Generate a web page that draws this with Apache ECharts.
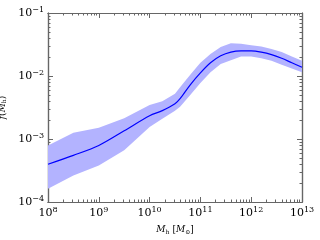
<!DOCTYPE html>
<html><head><meta charset="utf-8">
<script src="https://cdn.jsdelivr.net/npm/echarts@6/dist/echarts.min.js"></script>
<style>html,body{margin:0;padding:0;background:#fff}#c{width:320px;height:240px}</style>
</head><body><div id="c"></div>
<script>
// Halo mass M_h [M_sun]
var mass = [1e8, 3.16e8, 1e9, 3.16e9, 1e10, 1.78e10, 3.16e10, 3.98e10, 6.31e10, 1e11, 1.58e11, 2.51e11, 3.98e11, 6.31e11, 1e12, 1.58e12, 2.51e12, 3.98e12, 6.31e12, 1e13];
// median f(M_h)
var fMid = [3.98e-4, 5.5e-4, 7.9e-4, 1.35e-3, 2.34e-3, 2.82e-3, 3.63e-3, 4.37e-3, 7.24e-3, 1.12e-2, 1.62e-2, 2.09e-2, 2.40e-2, 2.51e-2, 2.51e-2, 2.40e-2, 2.19e-2, 1.91e-2, 1.62e-2, 1.38e-2];
// upper envelope
var fUp = [7.9e-4, 1.26e-3, 1.51e-3, 2.14e-3, 3.47e-3, 3.98e-3, 5.25e-3, 6.61e-3, 1.05e-2, 1.62e-2, 2.24e-2, 2.88e-2, 3.31e-2, 3.24e-2, 3.09e-2, 2.95e-2, 2.69e-2, 2.40e-2, 2.04e-2, 1.74e-2];
// lower envelope
var fLo = [1.62e-4, 2.63e-4, 3.80e-4, 6.61e-4, 1.55e-3, 2.09e-3, 2.82e-3, 3.24e-3, 5.01e-3, 7.76e-3, 1.15e-2, 1.55e-2, 1.78e-2, 2.04e-2, 2.04e-2, 1.91e-2, 1.74e-2, 1.51e-2, 1.32e-2, 1.15e-2];
var xTickExp = [8, 9, 10, 11, 12, 13];
var yTickExp = [-4, -3, -2, -1];

function minorVals(lo, hi) {
  var out = [];
  for (var e = lo; e < hi; e++) for (var k = 2; k <= 9; k++) out.push(k * Math.pow(10, e));
  return out;
}
var FONT = 'DejaVu Serif';
function expLabel(v) {
  var e = Math.round(Math.log10(v));
  return '{b|10}{s|' + (e < 0 ? '\u2212' + (-e) : e) + '}';
}
var rich = {
  b: {fontFamily: FONT, fontSize: 11, color: '#000'},
  s: {fontFamily: FONT, fontSize: 8, color: '#000', padding: [0, 0, 7, 0]}
};
var axLine = {show: true, lineStyle: {color: '#666', width: 1.2}};
var nameRich = {
  i: {fontFamily: FONT, fontStyle: 'italic', fontSize: 9, color: '#000'},
  n: {fontFamily: FONT, fontSize: 9, color: '#000'},
  sub: {fontFamily: FONT, fontSize: 6, color: '#000', padding: [4, 0, 0, 0]}
};

var chart = echarts.init(document.getElementById('c'), null, {renderer: 'canvas'});
var grid = {left: 48, right: 18, top: 13, bottom: 38, containLabel: false, outerBoundsMode: 'none'};
var bandPts = [];
mass.forEach(function (m, i) { bandPts.push([m, fUp[i]]); });
for (var i = mass.length - 1; i >= 0; i--) bandPts.push([mass[i], fLo[i]]);

function xAx(pos, labels, minor) {
  return {
    type: 'log', logBase: 10, min: 1e8, max: 1e13, position: pos, gridIndex: 0,
    axisLine: axLine,
    axisTick: {show: true, inside: true, length: minor ? 2.5 : 5, lineStyle: {color: '#666', width: 1},
      customValues: minor ? minorVals(8, 13) : xTickExp.map(function (e) { return Math.pow(10, e); })},
    axisLabel: labels ? {show: true, formatter: expLabel, rich: rich, margin: 4,
      customValues: xTickExp.map(function (e) { return Math.pow(10, e); })} : {show: false},
    splitLine: {show: false}, minorTick: {show: false},
    name: labels ? '{i|M}{sub|h} {n|[}{i|M}{sub|\u2299}{n|]}' : '', nameLocation: 'middle', nameGap: 22,
    nameTextStyle: {rich: nameRich}
  };
}
function yAx(pos, labels, minor) {
  return {
    type: 'log', logBase: 10, min: 1e-4, max: 1e-1, position: pos, gridIndex: 0,
    axisLine: axLine,
    axisTick: {show: true, inside: true, length: minor ? 2.5 : 5, lineStyle: {color: '#666', width: 1},
      customValues: minor ? minorVals(-4, -1) : yTickExp.map(function (e) { return Math.pow(10, e); })},
    axisLabel: labels ? {show: true, formatter: expLabel, rich: rich, margin: 4,
      customValues: yTickExp.map(function (e) { return Math.pow(10, e); })} : {show: false},
    splitLine: {show: false}, minorTick: {show: false},
    name: labels ? '{i|f}{n|(}{i|M}{sub|h}{n|)}' : '', nameLocation: 'middle', nameGap: 34,
    nameRotate: 90,
    nameTextStyle: {rich: nameRich}
  };
}

chart.setOption({
  animation: false,
  backgroundColor: '#fff',
  grid: grid,
  xAxis: [xAx('bottom', true, false), xAx('bottom', false, true), xAx('top', false, false), xAx('top', false, true)],
  yAxis: [yAx('left', true, false), yAx('left', false, true), yAx('right', false, false), yAx('right', false, true)],
  series: [
    {
      type: 'custom', xAxisIndex: 0, yAxisIndex: 0, data: [0], z: 1,
      renderItem: function (params, api) {
        var pts = bandPts.map(function (p) { return api.coord(p); });
        return {type: 'polygon', shape: {points: pts, smooth: 0}, style: {fill: 'rgb(179,179,255)', stroke: 'none'}};
      }
    },
    {
      type: 'line', xAxisIndex: 0, yAxisIndex: 0, z: 2,
      data: mass.map(function (m, i) { return [m, fMid[i]]; }),
      showSymbol: false, smooth: 0.3,
      lineStyle: {color: '#0000ff', width: 1.2}
    }
  ]
});
</script></body></html>
